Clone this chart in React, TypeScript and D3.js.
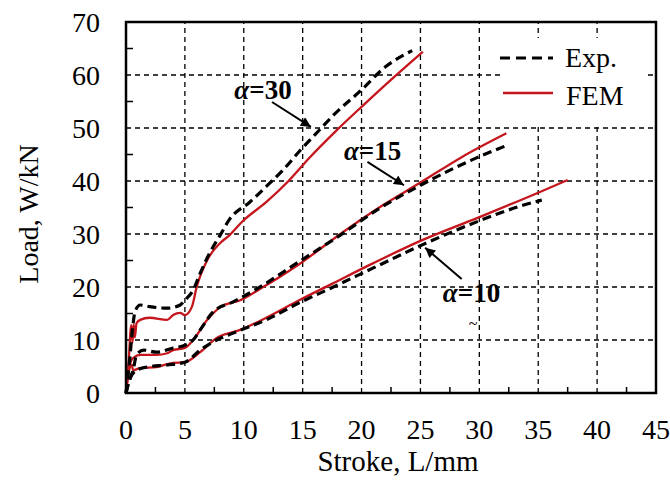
import { useEffect, useRef } from 'react';
import * as d3 from 'd3';

type Pt = [number, number];

const xTicks = [0, 5, 10, 15, 20, 25, 30, 35, 40, 45];
const yTicks = [0, 10, 20, 30, 40, 50, 60, 70];

const alpha10Exp: Pt[] = [[0, 0], [0.3, 2.5], [0.9, 4.3], [1.8, 4.9], [3.5, 5.3], [5, 5.8], [6.3, 8.1], [7.7, 10], [9.1, 11.3], [11.9, 13.8], [14.7, 17], [17.6, 20], [21, 23.6], [25, 27.8], [29.9, 32.4], [33.4, 35.2], [35.3, 36.4]];
const alpha10Fem: Pt[] = [[0, 0], [0.2, 3.8], [0.5, 5.3], [0.6, 4.3], [1.2, 4.7], [2.6, 4.9], [4, 5.7], [5, 5.8], [6.3, 7.7], [7.7, 10.4], [9.7, 11.9], [11.9, 14.2], [14.7, 17.5], [17.4, 20.5], [21, 24.5], [25, 28.7], [29.9, 33.1], [34.9, 37.7], [37.5, 40.2]];
const alpha15Exp: Pt[] = [[0, 0], [0.3, 2.5], [0.6, 4.3], [0.9, 7.2], [1.5, 8.1], [2.6, 7.7], [4, 8.5], [5, 9], [5.7, 10], [6.3, 11.9], [7.4, 15.3], [9.1, 17.2], [11, 19.5], [14.5, 24.5], [18.2, 29.8], [21.5, 34.8], [25, 39.2], [29.9, 44.5], [32.2, 46.6]];
const alpha15Fem: Pt[] = [[0, 0], [0.3, 5], [0.6, 6.6], [1.2, 7.2], [2.6, 7.2], [3.5, 7.5], [4, 8.1], [5, 8.5], [5.7, 10], [6.9, 13.8], [8, 16.2], [9.7, 17.5], [11.5, 19.8], [14.7, 24.3], [18.2, 30], [21.5, 35], [25, 39.7], [28.5, 44.5], [32.3, 49]];
const alpha30Exp: Pt[] = [[0, 0], [0.3, 6], [0.55, 12], [0.76, 15.3], [1.2, 16.6], [2, 16.3], [3.5, 16], [4.6, 16.6], [5, 17.5], [5.7, 19.4], [6.3, 22.6], [7.1, 26.4], [8, 29.8], [8.8, 32.8], [10.5, 36], [12.2, 39.6], [13.3, 42], [14.8, 45.8], [16.5, 49.8], [17.7, 52.6], [20, 57.2], [22, 61.5], [24.3, 64.6]];
const alpha30Fem: Pt[] = [[0, 0], [0.2, 5], [0.45, 12.8], [0.55, 9.5], [0.65, 13], [0.75, 10.5], [0.9, 13.2], [1.2, 13.8], [2, 14.2], [3.5, 13.8], [4, 14.7], [4.6, 15.1], [5, 14.7], [5.6, 16.3], [6, 20], [6.9, 25.1], [8, 28.3], [8.8, 29.8], [9.9, 32.4], [11.9, 36], [13.8, 40], [15.5, 44.2], [17.9, 49.6], [20, 54], [22.8, 59.7], [25.2, 64.4]];

// annotation: label position, arrow start, arrow tip (data units)
const annotations = [
  { label: '30', text: [9.2, 55.5], from: [12.4, 54.9], to: [15.7, 50.2] },
  { label: '15', text: [18.5, 44], from: [20.5, 43.6], to: [23.6, 39.2] },
  { label: '10', text: [26.9, 17.2], from: [28.5, 21.5], to: [25.4, 27.4] },
];

const RED = '#c4161c';
const FONT = '"Liberation Serif", "Times New Roman", serif';

const LoadChart = () => {
  const svgRef = useRef<SVGSVGElement>(null);

  useEffect(() => {
    const svg = d3.select(svgRef.current);
    svg.selectAll('*').remove();

    const x = d3.scaleLinear().domain([0, 45]).range([126, 656]);
    const y = d3.scaleLinear().domain([0, 70]).range([393, 22]);

    svg.append('defs')
      .append('marker')
      .attr('id', 'arrow')
      .attr('viewBox', '0 0 10 10')
      .attr('refX', 10)
      .attr('refY', 5)
      .attr('markerWidth', 5.5)
      .attr('markerHeight', 5)
      .attr('markerUnits', 'strokeWidth')
      .attr('orient', 'auto')
      .append('path')
      .attr('d', 'M0,0 L10,5 L0,10 Z')
      .attr('fill', '#000');

    // Grid
    const grid = svg.append('g')
      .attr('stroke', '#000')
      .attr('stroke-width', 1.3)
      .attr('stroke-dasharray', '5,4');
    xTicks.slice(1, -1).forEach(t => {
      grid.append('line')
        .attr('x1', x(t)).attr('x2', x(t))
        .attr('y1', y(0)).attr('y2', y(70));
    });
    yTicks.slice(1, -1).forEach(t => {
      grid.append('line')
        .attr('x1', x(0)).attr('x2', x(45))
        .attr('y1', y(t)).attr('y2', y(t));
    });

    // Legend box hides grid behind it
    svg.append('rect')
      .attr('x', 500).attr('y', 38)
      .attr('width', 148).attr('height', 86)
      .attr('fill', '#fff');

    // Minor ticks
    d3.range(2.5, 45, 5).forEach(t => {
      svg.append('line')
        .attr('x1', x(t)).attr('x2', x(t))
        .attr('y1', y(0)).attr('y2', y(0) - 6)
        .attr('stroke', '#000').attr('stroke-width', 1.5);
    });
    d3.range(5, 70, 10).forEach(t => {
      svg.append('line')
        .attr('x1', x(0)).attr('x2', x(0) + 7)
        .attr('y1', y(t)).attr('y2', y(t))
        .attr('stroke', '#000').attr('stroke-width', 1.5);
    });

    // Curves
    const line = d3.line<Pt>()
      .x(d => x(d[0]))
      .y(d => y(d[1]))
      .curve(d3.curveMonotoneX);

    [alpha10Fem, alpha15Fem, alpha30Fem].forEach(s => {
      svg.append('path')
        .datum(s)
        .attr('fill', 'none')
        .attr('stroke', RED)
        .attr('stroke-width', 2.3)
        .attr('d', line);
    });
    [alpha10Exp, alpha15Exp, alpha30Exp].forEach(s => {
      svg.append('path')
        .datum(s)
        .attr('fill', 'none')
        .attr('stroke', '#000')
        .attr('stroke-width', 3.2)
        .attr('stroke-dasharray', '9,5')
        .attr('d', line);
    });

    // Frame
    svg.append('rect')
      .attr('x', x(0)).attr('y', y(70))
      .attr('width', x(45) - x(0)).attr('height', y(0) - y(70))
      .attr('fill', 'none')
      .attr('stroke', '#000')
      .attr('stroke-width', 2.5);

    // Tick labels
    svg.append('g')
      .selectAll('text')
      .data(xTicks)
      .enter()
      .append('text')
      .attr('x', d => x(d))
      .attr('y', 439)
      .attr('text-anchor', 'middle')
      .style('font-family', FONT)
      .style('font-size', '28px')
      .text(d => d);
    svg.append('g')
      .selectAll('text')
      .data(yTicks)
      .enter()
      .append('text')
      .attr('x', 100)
      .attr('y', d => y(d) + 9.5)
      .attr('text-anchor', 'end')
      .style('font-family', FONT)
      .style('font-size', '28px')
      .text(d => d);

    // Axis titles
    svg.append('text')
      .attr('x', 398)
      .attr('y', 471)
      .attr('text-anchor', 'middle')
      .style('font-family', FONT)
      .style('font-size', '29px')
      .text('Stroke, L/mm');
    svg.append('text')
      .attr('transform', 'translate(38,214) rotate(-90)')
      .attr('text-anchor', 'middle')
      .style('font-family', FONT)
      .style('font-size', '28px')
      .text('Load, W/kN');

    // Annotations
    annotations.forEach(a => {
      const t = svg.append('text')
        .attr('x', x(a.text[0]))
        .attr('y', y(a.text[1]))
        .style('font-family', FONT)
        .style('font-size', '27px')
        .style('font-weight', 'bold');
      t.append('tspan').style('font-style', 'italic').text('α');
      t.append('tspan').text('=' + a.label);
      svg.append('line')
        .attr('x1', x(a.from[0])).attr('y1', y(a.from[1]))
        .attr('x2', x(a.to[0])).attr('y2', y(a.to[1]))
        .attr('stroke', '#000')
        .attr('stroke-width', 2)
        .attr('marker-end', 'url(#arrow)');
    });
    svg.append('text')
      .attr('x', 473).attr('y', 329)
      .attr('text-anchor', 'middle')
      .style('font-family', FONT)
      .style('font-size', '16px')
      .text('~');

    // Legend
    svg.append('line')
      .attr('x1', 500).attr('x2', 553)
      .attr('y1', 58).attr('y2', 58)
      .attr('stroke', '#000').attr('stroke-width', 3)
      .attr('stroke-dasharray', '10,6');
    svg.append('text')
      .attr('x', 565).attr('y', 67)
      .style('font-family', FONT)
      .style('font-size', '28px')
      .text('Exp.');
    svg.append('line')
      .attr('x1', 503).attr('x2', 553)
      .attr('y1', 93).attr('y2', 93)
      .attr('stroke', RED).attr('stroke-width', 2.5);
    svg.append('text')
      .attr('x', 566).attr('y', 105)
      .style('font-family', FONT)
      .style('font-size', '28px')
      .text('FEM');
  }, []);

  return <svg ref={svgRef} width={670} height={483} style={{ display: 'block' }} />;
};

export default function App() {
  return (
    <div style={{ position: 'absolute', left: 0, top: 0, background: '#fff' }}>
      <LoadChart />
    </div>
  );
}
